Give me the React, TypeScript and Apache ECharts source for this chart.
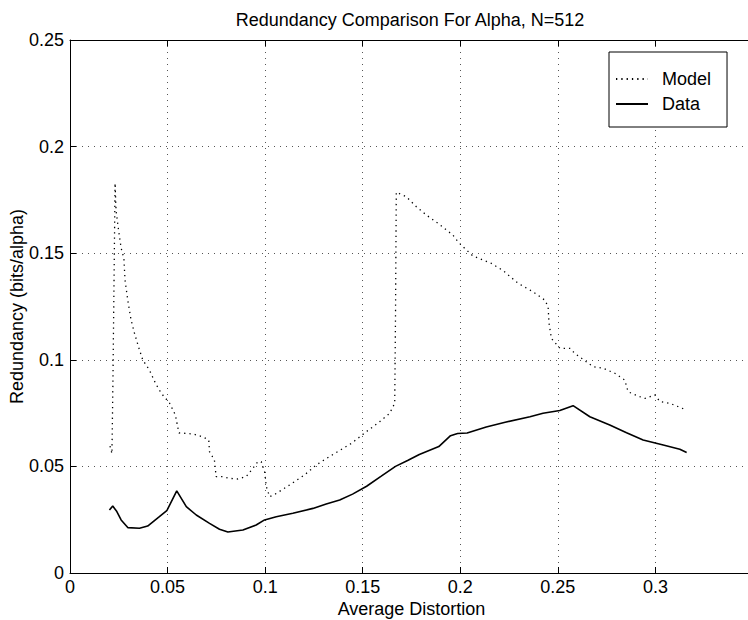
import React, { useEffect, useRef } from "react";
import * as echarts from "echarts";

const titleText = "Redundancy Comparison For Alpha, N=512";
const xName = "Average Distortion";
const yName = "Redundancy (bits/alpha)";
const seriesNames = ["Model", "Data"];
const xTickLabels = ["0", "0.05", "0.1", "0.15", "0.2", "0.25", "0.3"];

const modelX = [
  0.0205, 0.0215, 0.022, 0.0226, 0.0231, 0.0236, 0.025, 0.0262, 0.0276, 0.0282,
  0.0296, 0.0313, 0.033, 0.0351, 0.0373, 0.0407, 0.0438, 0.0467, 0.051, 0.054,
  0.0558, 0.0596, 0.063, 0.068, 0.0711, 0.0715, 0.074, 0.0749, 0.0783, 0.0817,
  0.086, 0.0903, 0.0937, 0.0963, 0.098, 0.0997, 0.1006, 0.1023, 0.1057, 0.1125,
  0.1202, 0.1262, 0.133, 0.1442, 0.1519, 0.1587, 0.1638, 0.1664, 0.1668, 0.1672,
  0.1723, 0.1775, 0.1826, 0.1886, 0.1962, 0.1988, 0.2014, 0.2065, 0.216, 0.222,
  0.2296, 0.2373, 0.2433, 0.245, 0.2455, 0.2467, 0.251, 0.2561, 0.2587, 0.2629,
  0.268, 0.2732, 0.2792, 0.2843, 0.286, 0.292, 0.2946, 0.2997, 0.3023, 0.3074,
  0.316,
];
const modelY = [
  0.0595, 0.056, 0.09, 0.14, 0.1829, 0.17, 0.16, 0.1524, 0.1477, 0.1374,
  0.128, 0.1187, 0.1126, 0.1061, 0.0999, 0.0952, 0.089, 0.0844, 0.0797, 0.0741,
  0.0657, 0.0655, 0.0652, 0.0639, 0.0624, 0.0569, 0.053, 0.0452, 0.0452, 0.0444,
  0.0441, 0.0452, 0.0491, 0.0522, 0.0522, 0.0475, 0.0405, 0.0358, 0.0373, 0.0413,
  0.046, 0.0507, 0.0546, 0.0608, 0.0663, 0.071, 0.0749, 0.0796, 0.12, 0.1786,
  0.1765, 0.1718, 0.1679, 0.164, 0.1585, 0.1554, 0.153, 0.1487, 0.1452, 0.1418,
  0.1359, 0.1319, 0.128, 0.1249, 0.117, 0.11, 0.1054, 0.1054, 0.103, 0.1002,
  0.0968, 0.096, 0.0937, 0.0905, 0.085, 0.0827, 0.0819, 0.0835, 0.0804, 0.0796,
  0.0764,
];

const dataX = [
  0.0202, 0.0219, 0.024, 0.0262, 0.0296, 0.0356, 0.0398, 0.0458, 0.0496, 0.0547,
  0.0596, 0.0647, 0.0715, 0.0766, 0.0809, 0.0886, 0.0954, 0.0997, 0.1057, 0.1142,
  0.1245, 0.1313, 0.1382, 0.1448, 0.152, 0.1595, 0.1668, 0.173, 0.179, 0.189,
  0.195, 0.1986, 0.2035, 0.2133, 0.223, 0.2357, 0.2424, 0.251, 0.2578, 0.2664,
  0.2766, 0.2852, 0.2937, 0.304, 0.3125, 0.316,
];
const dataY = [
  0.0295, 0.0314, 0.0288, 0.0249, 0.0213, 0.021, 0.022, 0.0264, 0.0292, 0.0385,
  0.0311, 0.0272, 0.0233, 0.0205, 0.0192, 0.0202, 0.0225, 0.0249, 0.0264, 0.028,
  0.0303, 0.0324, 0.0342, 0.037, 0.0407, 0.0454, 0.05, 0.0528, 0.0556, 0.0593,
  0.0644, 0.0654, 0.0657, 0.0685, 0.0707, 0.0733, 0.0749, 0.0762, 0.0785, 0.0733,
  0.0694, 0.0658, 0.0624, 0.06, 0.058, 0.0565,
];

const FONT = "'Liberation Sans', Arial, Helvetica, sans-serif";

export default function App() {
  const ref = useRef<HTMLDivElement>(null);
  useEffect(() => {
    document.body.style.margin = "0";
    const chart = echarts.init(ref.current!, null, { renderer: "svg" });
    const fmtX = (v: number) => {
      const s = String(Math.round(v * 100) / 100);
      return xTickLabels.indexOf(s) >= 0 ? s : "";
    };
    chart.setOption({
      animation: false,
      backgroundColor: "#fff",
      textStyle: { fontFamily: FONT },
      graphic: [
        {
          type: "text",
          x: 410,
          y: 11,
          style: {
            text: titleText,
            fontFamily: FONT,
            fontSize: 18,
            fill: "#000",
            align: "center",
            verticalAlign: "top",
          },
        },
      ],
      grid: {
        left: 70,
        top: 40,
        right: -5,
        bottom: 47,
        containLabel: false,
        outerBoundsMode: "none",
      },
      legend: {
        data: seriesNames,
        orient: "vertical",
        left: 609,
        top: 52,
        itemWidth: 32,
        itemHeight: 14,
        itemGap: 7,
        padding: [18, 16, 14, 6],
        borderColor: "#000",
        borderWidth: 1,
        backgroundColor: "#fff",
        itemStyle: { opacity: 0 },
        textStyle: { fontSize: 18, color: "#000", fontFamily: FONT, padding: [0, 0, 0, 9] },
      },
      xAxis: [
        {
          type: "value",
          min: 0,
          max: 0.35,
          interval: 0.05,
          name: xName,
          nameLocation: "middle",
          nameGap: 27,
          nameMoveOverlap: false,
          nameTextStyle: { fontSize: 18, color: "#000", fontFamily: FONT },
          axisLine: { onZero: false, lineStyle: { color: "#000", width: 1 } },
          axisTick: { inside: true, length: 6, lineStyle: { color: "#000" } },
          axisLabel: { fontSize: 18, color: "#000", margin: 5, formatter: fmtX, fontFamily: FONT },
          splitLine: { show: true, lineStyle: { color: "#555", type: [1, 5], width: 1 } },
        },
        {
          type: "value",
          position: "top",
          min: 0,
          max: 0.35,
          interval: 0.05,
          axisLine: { onZero: false, lineStyle: { color: "#000", width: 1 } },
          axisTick: { inside: true, length: 6, lineStyle: { color: "#000" } },
          axisLabel: { show: false },
          splitLine: { show: false },
        },
      ],
      yAxis: {
        type: "value",
        min: 0,
        max: 0.25,
        interval: 0.05,
        name: yName,
        nameLocation: "middle",
        nameGap: 44,
        nameMoveOverlap: false,
        nameTextStyle: { fontSize: 18, color: "#000", fontFamily: FONT },
        axisLine: { show: true, onZero: false, lineStyle: { color: "#000", width: 1 } },
        axisTick: { show: true, inside: true, length: 6, lineStyle: { color: "#000" } },
        axisLabel: { fontSize: 18, color: "#000", margin: 6, fontFamily: FONT },
        splitLine: { show: true, lineStyle: { color: "#555", type: [1, 5], width: 1 } },
      },
      series: [
        {
          name: seriesNames[0],
          type: "line",
          xAxisIndex: 0,
          symbol: "none",
          showSymbol: false,
          data: modelX.map((x, i) => [x, modelY[i]]),
          lineStyle: { color: "#000", width: 1.3, type: [1.3, 4] },
          itemStyle: { color: "#000" },
        },
        {
          name: seriesNames[1],
          type: "line",
          xAxisIndex: 0,
          symbol: "none",
          showSymbol: false,
          data: dataX.map((x, i) => [x, dataY[i]]),
          lineStyle: { color: "#000", width: 1.6, type: "solid" },
          itemStyle: { color: "#000" },
        },
      ],
    });
    return () => chart.dispose();
  }, []);
  return <div ref={ref} style={{ width: 748, height: 620, position: "absolute", left: 0, top: 0 }} />;
}
